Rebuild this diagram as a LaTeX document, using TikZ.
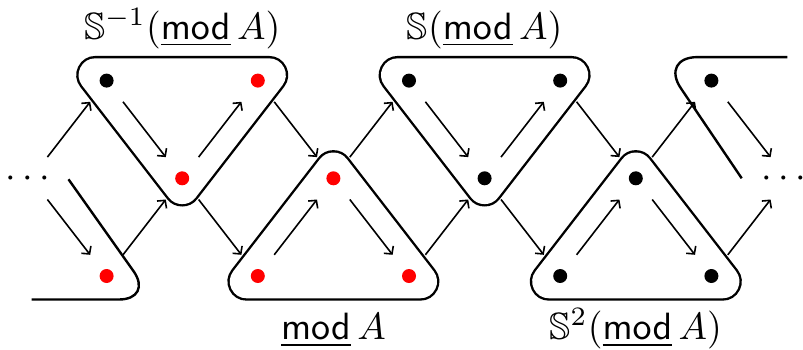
\documentclass[tikz,border=0pt]{standalone}
\usepackage{amssymb}
\usetikzlibrary{arrows.meta}
\begin{document}
\begin{tikzpicture}[x=1pt,y=-1pt,
  vtx/.style={circle,fill=black,inner sep=0pt,minimum size=14pt},
  rvtx/.style={vtx,fill=red},
  arr/.style={line width=1.6pt,-{Straight Barb[length=5.5pt,width=12pt]},shorten <=26.8pt,shorten >=26.8pt},
  outerline/.style={line width=38.4pt,line join=round},
  innerfill/.style={fill=white,draw=white,line width=33.6pt,line join=round},
  partline/.style={line width=2.4pt},
  lab/.style={anchor=base,scale=3.8,inner sep=0pt},
  dotsnode/.style={anchor=base,scale=3.8,inner sep=0pt}]
\useasboundingbox (0,0) rectangle (803,349);
% inverted region: #1 left col x, #2 middle x, #3 right x
\newcommand\invregion[3]{%
  \draw[outerline] (#1-11.2,75.1) -- (#3+11.2,75.1) -- (#2,187.3) -- cycle;
  \filldraw[innerfill] (#1-11.2,75.1) -- (#3+11.2,75.1) -- (#2,187.3) -- cycle;}
\newcommand\upregion[3]{%
  \draw[outerline] (#1-11.2,281.5) -- (#3+11.2,281.5) -- (#2,169.3) -- cycle;
  \filldraw[innerfill] (#1-11.2,281.5) -- (#3+11.2,281.5) -- (#2,169.3) -- cycle;}
\invregion{106.6}{182.2}{257.8}
\upregion{257.8}{333.4}{409}
\invregion{409}{484.6}{560.2}
\upregion{560.2}{635.8}{711.4}
% partial regions
\draw[partline,rounded corners=34.8pt] (31.7,299.5) -- (153.6,299.5) -- (68.5,179.3);
\draw[partline,rounded corners=37.7pt] (787.3,57.1) -- (659.8,57.1) -- (741.7,178.3);
% vertices
\node[vtx]  (a0) at (106.6,80.6) {};
\node[rvtx] (a2) at (257.8,80.6) {};
\node[vtx]  (a4) at (409,80.6) {};
\node[vtx]  (a6) at (560.2,80.6) {};
\node[vtx]  (a8) at (711.4,80.6) {};
\node[rvtx] (m1) at (182.2,178.3) {};
\node[rvtx] (m3) at (333.4,178.3) {};
\node[vtx]  (m5) at (484.6,178.3) {};
\node[vtx]  (m7) at (635.8,178.3) {};
\node[rvtx] (b0) at (106.6,276) {};
\node[rvtx] (b2) at (257.8,276) {};
\node[rvtx] (b4) at (409,276) {};
\node[vtx]  (b6) at (560.2,276) {};
\node[vtx]  (b8) at (711.4,276) {};
\coordinate (lm) at (31,178.3);
\coordinate (rm) at (787,178.3);
\node[dotsnode] (ldots) at (27.7,187.2) {\makebox[8.9pt]{$\cdots$}};
\node[dotsnode] (rdots) at (783.5,187.2) {\makebox[8.9pt]{$\cdots$}};
% arrows
\draw[arr] (lm) -- (a0.center);
\draw[arr] (lm) -- (b0.center);
\foreach \t/\m/\n in {a0/m1/a2, a2/m3/a4, a4/m5/a6, a6/m7/a8}{
  \draw[arr] (\t.center) -- (\m.center);
  \draw[arr] (\m.center) -- (\n.center);}
\foreach \t/\m/\n in {b0/m1/b2, b2/m3/b4, b4/m5/b6, b6/m7/b8}{
  \draw[arr] (\t.center) -- (\m.center);
  \draw[arr] (\m.center) -- (\n.center);}
\draw[arr] (a8.center) -- (rm);
\draw[arr] (b8.center) -- (rm);
% labels
\node[lab] (L1) at (182.2,39.3) {$\mathbb{S}^{-1}(\underline{\mathsf{mod}}\,A)$};
\node[lab] (L2) at (333.4,339.5) {$\underline{\mathsf{mod}}\,A$};
\node[lab] (L3) at (484.6,39.3) {$\mathbb{S}(\underline{\mathsf{mod}}\,A)$};
\node[lab] (L4) at (635.8,339.5) {$\mathbb{S}^{2}(\underline{\mathsf{mod}}\,A)$};
\end{tikzpicture}
\end{document}
